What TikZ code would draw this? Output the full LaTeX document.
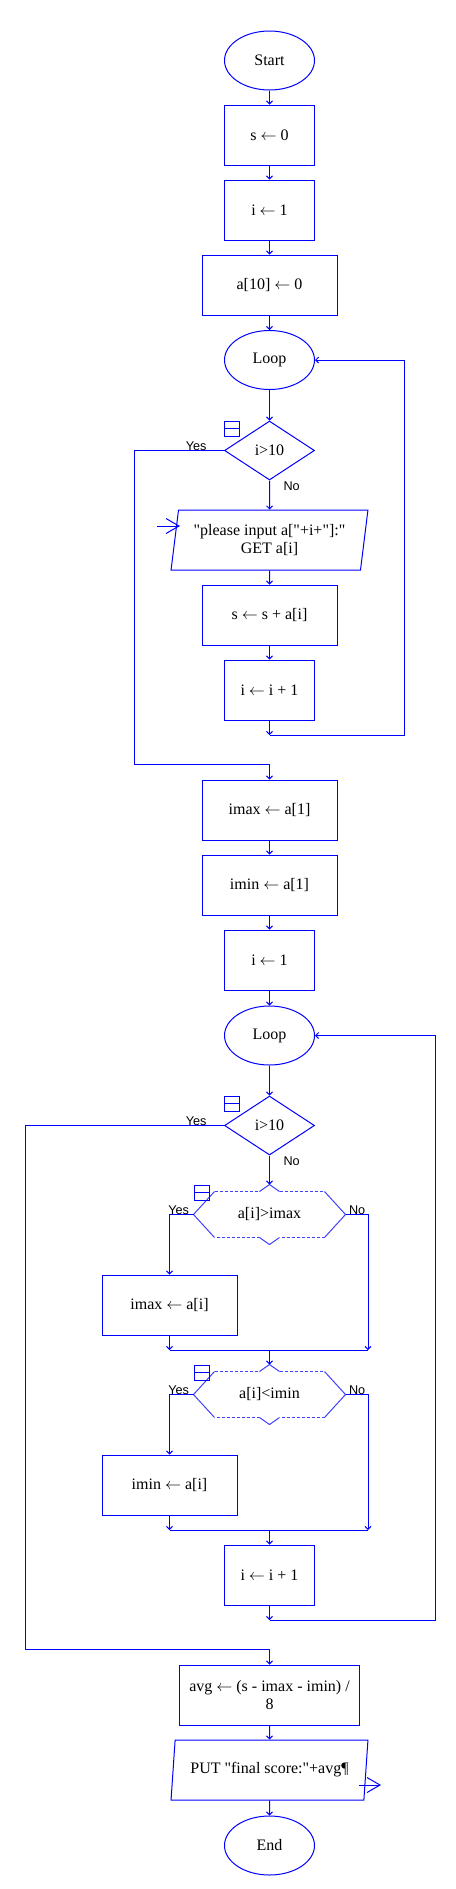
\documentclass[tikz,border=0pt]{standalone}
\usepackage{fontspec}
\setmainfont{Liberation Serif}[Ligatures=TeXOff]
\newfontfamily\labelfont{Liberation Sans}
\usetikzlibrary{calc, positioning, arrows.meta, shapes.geometric}

% outline of a dashed condition box round a named node
\newcommand{\hexcond}[1]{%
  \coordinate (#1-top) at ($(#1.north)+(0,-7)$);
  \coordinate (#1-bot) at ($(#1.south)+(0,7)$);
  \draw[hexline] (#1.west) -- ($(#1.north west)+(21,0)$);
  \draw[hexline, hexdash] ($(#1.north west)+(21,0)$) -- ($(#1.north)+(-10,0)$);
  \draw[hexline] ($(#1.north)+(-10,0)$) -- (#1-top) -- ($(#1.north)+(10,0)$);
  \draw[hexline, hexdash] ($(#1.north)+(10,0)$) -- ($(#1.north east)+(-21,0)$);
  \draw[hexline] ($(#1.north east)+(-21,0)$) -- (#1.east) -- ($(#1.south east)+(-21,0)$);
  \draw[hexline, hexdash] ($(#1.south east)+(-21,0)$) -- ($(#1.south)+(10,0)$);
  \draw[hexline] ($(#1.south)+(10,0)$) -- (#1-bot) -- ($(#1.south)+(-10,0)$);
  \draw[hexline, hexdash] ($(#1.south)+(-10,0)$) -- ($(#1.south west)+(21,0)$);
  \draw[hexline] ($(#1.south west)+(21,0)$) -- (#1.west);
}

\begin{document}
\begin{tikzpicture}[x=0.75pt, y=-0.75pt, line width=0.75pt, >={Straight Barb[length=2.25pt,width=4.5pt]},
  every node/.style={font=\fontsize{12}{13.5}\selectfont, text=black},
  proc/.style={draw=blue, rectangle, minimum width=67.5pt, minimum height=45pt, inner sep=2pt, align=center},
  wideproc/.style={proc, minimum width=101.25pt},
  term/.style={draw=blue, ellipse, minimum width=67.5pt, minimum height=44.25pt, inner sep=0pt},
  cond/.style={draw=blue, diamond, minimum width=67.5pt, minimum height=44.25pt, inner sep=0pt},
  io/.style={draw=blue, trapezium, trapezium left angle=80, trapezium right angle=100, trapezium stretches=true, minimum width=147.75pt, minimum height=45pt, inner sep=2pt, align=center},
  hexbox/.style={minimum width=113.25pt, minimum height=33.75pt, inner sep=0pt},
  hexline/.style={draw=blue!75},
  hexdash/.style={dash pattern=on 2.25pt off 1.5pt},
  icon/.style={draw=blue, minimum size=11.25pt, inner sep=0pt, path picture={\draw[blue] (path picture bounding box.west) -- (path picture bounding box.east);}},
  lbl/.style={font=\labelfont\fontsize{9.5}{11}\selectfont, inner sep=0pt},
  link/.style={draw=blue, ->},
  wire/.style={draw=blue},
  bigarrow/.style={draw=blue, -{Straight Barb[length=9.75pt,width=11.25pt]}}]
  \useasboundingbox (0,0) rectangle (456,1889);

  \node[term] (start) at (269.5,60.5) {Start};
  \node[proc] (s0) at (269.5,135) {s $\leftarrow$ 0};
  \node[proc] (i1) at (269.5,210) {i $\leftarrow$ 1};
  \node[wideproc] (a10) at (269.5,285) {a[10] $\leftarrow$ 0};
  \node[term] (loopA) at (269.5,360) {Loop};
  \node[cond] (testA) at (269.5,450.5) {i>10};
  \node[io] (inA) at (269.5,540) {"please input a["+i+"]:"\\GET a[i]};
  \node[wideproc] (sum) at (269.5,615) {s $\leftarrow$ s + a[i]};
  \node[proc] (incA) at (269.5,690) {i $\leftarrow$ i + 1};
  \coordinate (jA) at (269.5,735);

  \node[wideproc] (imax1) at (269.5,810) {imax $\leftarrow$ a[1]};
  \node[wideproc] (imin1) at (269.5,885) {imin $\leftarrow$ a[1]};
  \node[proc] (i1b) at (269.5,960) {i $\leftarrow$ 1};
  \node[term] (loopB) at (269.5,1035.5) {Loop};
  \node[cond] (testB) at (269.5,1125.5) {i>10};

  \node[hexbox] (cmpMax) at (269.5,1214.5) {a[i]>imax};
  \hexcond{cmpMax}
  \node[wideproc] (imaxI) at (169.5,1305) {imax $\leftarrow$ a[i]};
  \coordinate (jMaxL) at (169.5,1350);
  \coordinate (jMax) at (269.5,1350);
  \coordinate (jMaxR) at (368,1350);

  \node[hexbox] (cmpMin) at (269.5,1394.5) {a[i]<imin};
  \hexcond{cmpMin}
  \node[wideproc] (iminI) at (169.5,1485) {imin $\leftarrow$ a[i]};
  \coordinate (jMinL) at (169.5,1530);
  \coordinate (jMin) at (269.5,1530);
  \coordinate (jMinR) at (368,1530);

  \node[proc] (incB) at (269.5,1575) {i $\leftarrow$ i + 1};
  \coordinate (jB) at (269.5,1620);
  \node[proc, minimum width=135pt] (avg) at (269.5,1695) {avg $\leftarrow$ (s - imax - imin) /\\8};
  \node[io] (out) at (269.5,1770) {PUT "final score:"+avg¶};
  \node[term] (end) at (269.5,1845.5) {End};

  \coordinate (inTail) at (157,526);
  \coordinate (inTip) at (180,526);
  \coordinate (outTail) at (359,1785);
  \coordinate (outTip) at (381,1785);

  % first loop
  \draw[link] (start) -- (s0);
  \draw[link] (s0) -- (i1);
  \draw[link] (i1) -- (a10);
  \draw[link] (a10) -- (loopA);
  \draw[link] (loopA) -- (testA);
  \draw[link] (testA) -- (inA);
  \draw[link] (inA) -- (sum);
  \draw[link] (sum) -- (incA);
  \draw[link] (incA) -- (jA);
  \draw[link] (jA) -- ++(134.5,0) |- (loopA);
  \draw[link] (testA.west) -- ++(-90,0) |- ($(imax1.north)+(0,-15)$) -- (imax1);
  \draw[bigarrow] (inTail) -- (inTip);

  % second loop
  \draw[link] (imax1) -- (imin1);
  \draw[link] (imin1) -- (i1b);
  \draw[link] (i1b) -- (loopB);
  \draw[link] (loopB) -- (testB);
  \draw[link] (testB) -- (cmpMax-top);
  \draw[link] (cmpMax.west) -| (imaxI.north);
  \draw[link] (cmpMax.east) -| (jMaxR);
  \draw[link] (imaxI) -- (jMaxL);
  \draw[wire] (jMaxL) -- (jMaxR);
  \draw[link] (jMax) -- (cmpMin-top);
  \draw[link] (cmpMin.west) -| (iminI.north);
  \draw[link] (cmpMin.east) -| (jMinR);
  \draw[link] (iminI) -- (jMinL);
  \draw[wire] (jMinL) -- (jMinR);
  \draw[link] (jMin) -- (incB);
  \draw[link] (incB) -- (jB);
  \draw[link] (jB) -- ++(165.5,0) |- (loopB);
  \draw[link] (testB.west) -- ++(-199,0) |- ($(avg.north)+(0,-15)$) -- (avg);
  \draw[link] (avg) -- (out);
  \draw[link] (out) -- (end);
  \draw[bigarrow] (outTail) -- (outTip);

  % labels and markers
  \node[lbl, anchor=base east] (yesA) at ($(testA.west)+(-17,0)$) {Yes};
  \node[lbl, anchor=north west] (noA) at ($(testA.south)+(13.5,1)$) {No};
  \node[lbl, anchor=base east] (yesB) at ($(testB.west)+(-17,0)$) {Yes};
  \node[lbl, anchor=north west] (noB) at ($(testB.south)+(13.5,1)$) {No};
  \node[lbl, anchor=base east] (yesMax) at ($(cmpMax.west)+(-4,0)$) {Yes};
  \node[lbl, anchor=base west] (noMax) at ($(cmpMax.east)+(3,0)$) {No};
  \node[lbl, anchor=base east] (yesMin) at ($(cmpMin.west)+(-4,0)$) {Yes};
  \node[lbl, anchor=base west] (noMin) at ($(cmpMin.east)+(3,0)$) {No};
  \node[icon, anchor=north west] (iconA) at (testA.west |- testA.north) {};
  \node[icon, anchor=north west] (iconB) at (testB.west |- testB.north) {};
  \node[icon, anchor=north west] (iconMax) at (cmpMax.west |- cmpMax-top) {};
  \node[icon, anchor=north west] (iconMin) at (cmpMin.west |- cmpMin-top) {};
\end{tikzpicture}
\end{document}
